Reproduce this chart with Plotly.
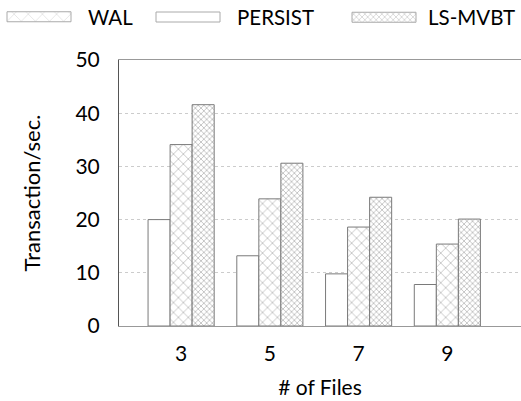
import plotly.graph_objects as go

categories = ["3", "5", "7", "9"]
persist = [20.0, 13.2, 9.8, 7.8]
wal = [34.1, 23.9, 18.6, 15.4]
lsmvbt = [41.6, 30.6, 24.2, 20.1]
series_names = ["WAL", "PERSIST", "LS-MVBT"]
y_ticks = [0, 10, 20, 30, 40, 50]

W, H = 521, 401
FONT = "Lato"
LINE = "#7a7a7a"

styles = {
    "PERSIST": dict(color="white", pattern=dict(shape="")),
    "WAL": dict(color="white", pattern=dict(shape="x", size=7, solidity=0.2, fgcolor="#6e6e6e", bgcolor="white", fillmode="overlay")),
    "LS-MVBT": dict(color="white", pattern=dict(shape="x", size=4, solidity=0.35, fgcolor="#707070", bgcolor="white", fillmode="overlay")),
}
legend_patterns = {
    "PERSIST": dict(shape=""),
    "WAL": dict(shape="x", size=10, solidity=0.1, fgcolor="#a0a0a0", bgcolor="white", fillmode="overlay"),
    "LS-MVBT": dict(shape="x", size=4, solidity=0.3, fgcolor="#909090", bgcolor="white", fillmode="overlay"),
}
values = {"PERSIST": persist, "WAL": wal, "LS-MVBT": lsmvbt}

fig = go.Figure()
xpos = list(range(len(categories)))
for name in ["PERSIST", "WAL", "LS-MVBT"]:
    st = styles[name]
    fig.add_trace(go.Bar(
        x=xpos, y=values[name], name=name, showlegend=False,
        marker=dict(color=st["color"], pattern=st["pattern"], line=dict(color=LINE, width=1)),
        xaxis="x", yaxis="y",
    ))

# custom legend swatches (wide rectangles) on a full-figure overlay axis
leg_x0 = [7, 156, 352]
leg_txt = [86, 235, 426]
for i, name in enumerate(series_names):
    fig.add_trace(go.Bar(
        x=[64], base=[leg_x0[i]], y=[17], width=[10], orientation="h",
        showlegend=False, hoverinfo="skip",
        marker=dict(color="white", pattern=legend_patterns[name], line=dict(color="#aaaaaa", width=1)),
        xaxis="x2", yaxis="y2",
    ))
    fig.add_annotation(x=leg_txt[i] / W, y=1 - 17 / H, xref="paper", yref="paper",
                       text=name, showarrow=False, xanchor="left", yanchor="middle",
                       font=dict(family=FONT, size=20.5, color="black"))

fig.update_layout(
    width=W, height=H,
    margin=dict(l=0, r=0, t=0, b=0, autoexpand=False),
    paper_bgcolor="white", plot_bgcolor="rgba(0,0,0,0)",
    barmode="group", bargap=0.255, bargroupgap=0,
    font=dict(family=FONT, size=20, color="black"),
    xaxis=dict(domain=[119 / W, 1], range=[-0.70, 3.83], tickmode="array",
               tickvals=xpos, ticktext=categories, showgrid=False,
               showline=True, linecolor="#999999", linewidth=1, mirror=True,
               ticks="", ticklen=0, zeroline=False, automargin=False,
               ticklabelstandoff=9,
               title=dict(text="# of Files", font=dict(size=21), standoff=16),
               tickfont=dict(size=21), anchor="y"),
    yaxis=dict(domain=[(H - 326) / H, (H - 60) / H], range=[0, 50],
               tickvals=y_ticks, showgrid=True, gridcolor="#cccccc",
               griddash="dot", gridwidth=1, showline=True, linecolor="#555555",
               linewidth=1, ticks="", zeroline=False, automargin=False,
               ticklabelstandoff=14,
               title=dict(text="Transaction/sec.", font=dict(size=22), standoff=28),
               tickfont=dict(size=21), anchor="x"),
    xaxis2=dict(domain=[0, 1], range=[0, W], visible=False, anchor="y2",
                fixedrange=True, automargin=False),
    yaxis2=dict(domain=[0, 1], range=[H, 0], visible=False, anchor="x2",
                fixedrange=True, automargin=False),
)

fig.write_html("out.html", config={"displayModeBar": False},
               post_script="document.body.style.margin='0';")
